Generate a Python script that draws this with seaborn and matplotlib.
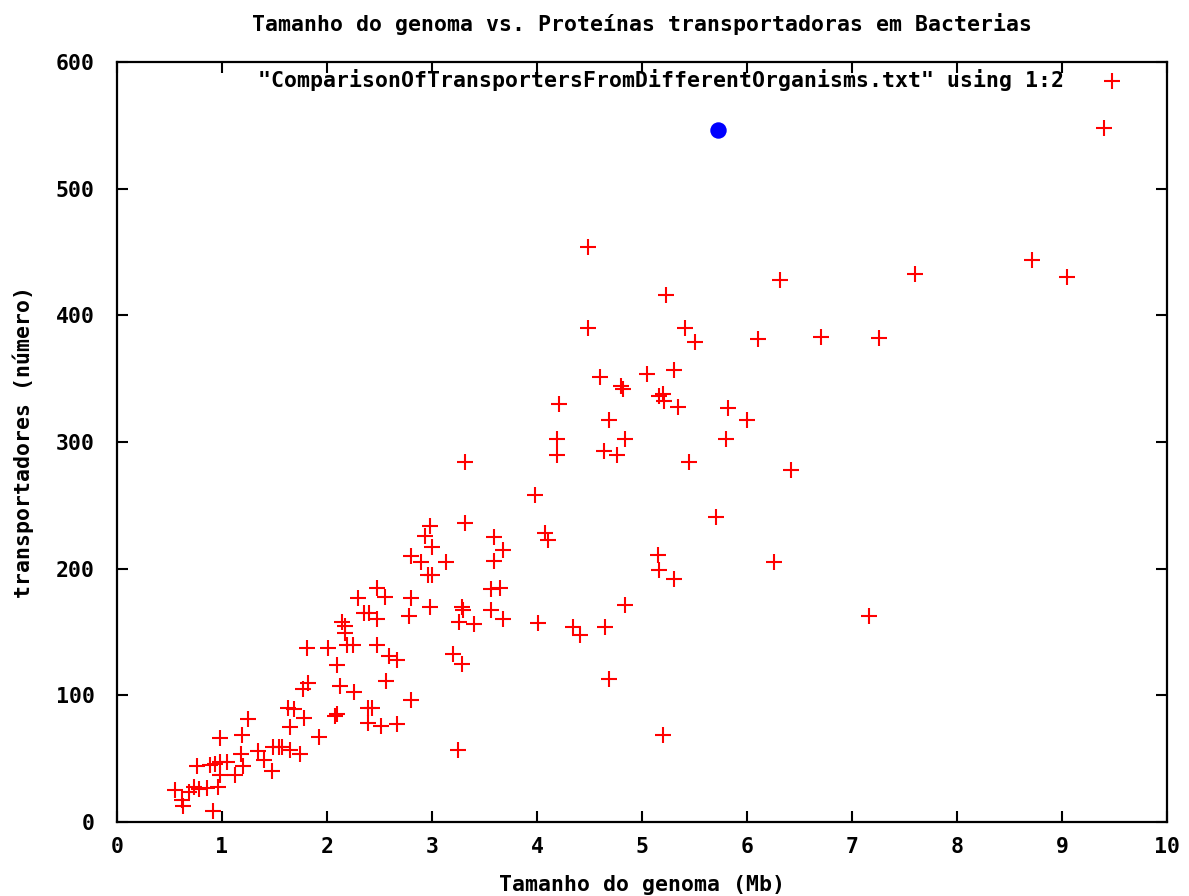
import numpy as np
import pandas as pd
import matplotlib
matplotlib.use('Agg')
import matplotlib.pyplot as plt
import seaborn as sns

# genome size (Mb) vs number of transporter proteins
genome_mb = [
    9.40, 9.05, 8.71, 7.60, 7.26, 6.70, 6.10, 6.31, 6.00, 5.82, 5.80, 6.42, 6.26, 7.16, 5.70,
    5.23, 4.49, 4.49, 5.41, 5.50, 5.05, 5.30, 5.34, 4.60, 4.80, 4.82, 4.21, 5.20, 5.16, 5.21,
    4.69, 4.19, 4.84, 4.19, 4.64, 4.76, 5.45, 3.98,
    4.08, 4.10, 5.15, 5.16, 5.30, 4.84, 4.01, 4.34, 4.41, 4.65, 4.69, 5.20,
    3.31, 2.98, 3.31, 2.93, 3.00, 3.59, 3.68, 2.80, 2.90, 3.13, 3.59, 2.96, 3.00, 2.48, 2.55,
    2.30, 2.80, 2.98, 3.29, 3.30, 3.56, 3.65,
    2.35, 2.40, 2.48, 2.78, 3.26, 3.40, 3.56, 3.68, 2.14, 2.17, 2.17, 2.19, 2.25, 2.48, 1.81,
    2.01, 2.59, 2.67, 3.20, 3.29, 2.10,
    1.82, 1.77, 2.12, 2.26, 2.56, 2.80, 1.63, 1.69, 1.78, 2.08, 2.10, 2.39, 2.43, 2.39, 2.51,
    2.67, 1.65, 1.92, 1.57, 1.65, 1.74, 3.25,
    1.25, 0.98, 1.19, 1.34, 1.40, 1.49, 1.54, 1.48, 1.18, 1.20, 1.12, 0.93, 0.98, 1.05, 0.89,
    0.76, 0.98, 0.96, 0.73, 0.78, 0.86, 0.69, 0.55, 0.62, 0.63, 0.91,
]
transporters = [
    548, 430, 444, 433, 382, 383, 381, 428, 317, 327, 302, 278, 205, 163, 241,
    416, 454, 390, 390, 379, 354, 357, 328, 351, 344, 342, 330, 338, 336, 332,
    317, 302, 302, 290, 293, 290, 284, 258,
    228, 223, 211, 199, 192, 171, 157, 154, 148, 154, 113, 69,
    284, 234, 236, 226, 217, 225, 215, 210, 205, 205, 206, 195, 195, 185, 178,
    177, 177, 170, 170, 167, 184, 185,
    165, 165, 160, 163, 158, 156, 167, 160, 158, 155, 149, 140, 140, 140, 137,
    137, 131, 128, 133, 125, 124,
    110, 105, 107, 103, 111, 96, 90, 89, 82, 84, 85, 90, 90, 78, 76,
    77, 75, 67, 59, 57, 54, 57,
    81, 66, 69, 56, 49, 59, 59, 40, 54, 44, 37, 46, 47, 47, 45,
    44, 37, 28, 28, 26, 27, 24, 25, 17, 13, 9,
]
highlight_x = [5.72]
highlight_y = [546]

x_ticks = list(range(0, 11))
y_ticks = [0, 100, 200, 300, 400, 500, 600]
legend_label = '"ComparisonOfTransportersFromDifferentOrganisms.txt" using 1:2'

sns.set_style('ticks')
plt.rcParams['font.family'] = ['DejaVu Sans Mono']
plt.rcParams['font.size'] = 15.5
plt.rcParams['font.weight'] = 'bold'
plt.rcParams['axes.labelweight'] = 'bold'
plt.rcParams['axes.titleweight'] = 'bold'
plt.rcParams['text.color'] = 'black'
plt.rcParams['axes.labelcolor'] = 'black'

df = pd.DataFrame({'genome': genome_mb, 'transp': transporters})

fig = plt.figure(figsize=(11.89, 8.96), dpi=100)
ax = fig.add_axes([0.0984, 0.0826, 0.8831, 0.8482])

sns.scatterplot(data=df, x='genome', y='transp', marker='+', color='red',
                s=125, linewidth=1.5, label=legend_label, ax=ax)
sns.scatterplot(x=highlight_x, y=highlight_y, color='blue', s=140,
                edgecolor='blue', linewidth=0, ax=ax)

ax.set_xlim(0, 10)
ax.set_ylim(0, 600)
ax.set_xticks(x_ticks)
ax.set_yticks(y_ticks)
ax.tick_params(direction='in', length=8, width=1.5, top=True, right=True,
               colors='black', labelsize=15.5)
ax.tick_params(axis='x', pad=11)
ax.tick_params(axis='y', pad=16)
for sp in ax.spines.values():
    sp.set_linewidth(1.6)
    sp.set_color('black')

ax.set_title('Tamanho do genoma vs. Proteínas transportadoras em Bacterias',
             fontsize=15.5, pad=22, color='black')
ax.set_xlabel('Tamanho do genoma (Mb)', fontsize=15.5, labelpad=13)
ax.set_ylabel('transportadores (número)', fontsize=15.5, labelpad=16)

leg = ax.legend(loc='upper right', markerfirst=False, frameon=False, fontsize=15.5,
                handletextpad=1.2, borderaxespad=0.3, bbox_to_anchor=(0.982, 1.011))
for t in leg.get_texts():
    t.set_color('black')

fig.savefig('out.png', dpi=100)
